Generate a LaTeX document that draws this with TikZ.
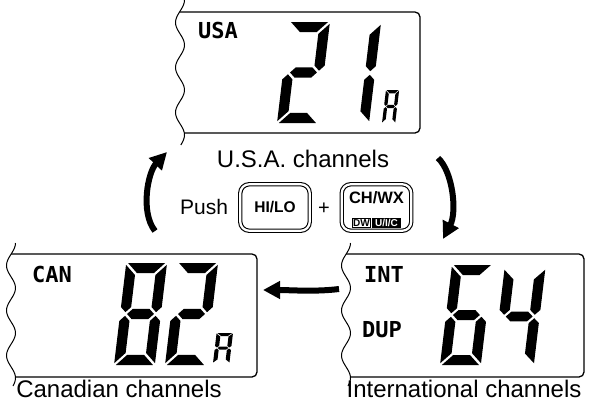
\documentclass[tikz,border=0pt]{standalone}
\usepackage{fontspec}
\setmainfont{Liberation Sans}
\newfontfamily\lcdfont{DejaVu Sans Mono}
\usetikzlibrary{arrows.meta}
\newcommand\sW{40}
\newcommand\sH{100}
\newcommand\sT{10}
\newcommand\sG{1.8}
\newcommand\sM{50}
\tikzset{
 sega/.style={insert path={(\sG,\sH) -- (\sW-\sG,\sH) -- (\sW-\sG-\sT,\sH-\sT) -- (\sG+\sT,\sH-\sT) -- cycle}},
 segd/.style={insert path={(\sG,0) -- (\sW-\sG,0) -- (\sW-\sG-\sT,\sT) -- (\sG+\sT,\sT) -- cycle}},
 segb/.style={insert path={(\sW,\sH-\sG) -- (\sW,\sM+\sG+\sT/2) -- (\sW-\sT/2,\sM+\sG) -- (\sW-\sT,\sM+\sG+\sT/2) -- (\sW-\sT,\sH-\sT-\sG) -- cycle}},
 segc/.style={insert path={(\sW,\sG) -- (\sW,\sM-\sG-\sT/2) -- (\sW-\sT/2,\sM-\sG) -- (\sW-\sT,\sM-\sG-\sT/2) -- (\sW-\sT,\sT+\sG) -- cycle}},
 sege/.style={insert path={(0,\sG) -- (0,\sM-\sG-\sT/2) -- (\sT/2,\sM-\sG) -- (\sT,\sM-\sG-\sT/2) -- (\sT,\sT+\sG) -- cycle}},
 segf/.style={insert path={(0,\sH-\sG) -- (0,\sM+\sG+\sT/2) -- (\sT/2,\sM+\sG) -- (\sT,\sM+\sG+\sT/2) -- (\sT,\sH-\sT-\sG) -- cycle}},
 segg/.style={insert path={(\sT/2+\sG,\sM) -- (\sT+\sG,\sM+\sT/2) -- (\sW-\sT-\sG,\sM+\sT/2) -- (\sW-\sT/2-\sG,\sM) -- (\sW-\sT-\sG,\sM-\sT/2) -- (\sT+\sG,\sM-\sT/2) -- cycle}},
}
\newcommand\lcddigit[5]{%
  \begin{scope}[shift={(#1,#2)},yscale=-1,xslant=-0.12,xscale=#3,yscale=#4]
    \foreach \s in {#5}{\fill[seg\s];}
  \end{scope}}
\begin{document}
\begin{tikzpicture}[x=1pt,y=-1pt,
  lcdbox/.style={line width=1.3pt, rounded corners=5pt},
  wave/.style={line width=1pt},
  lbl/.style={font=\fontsize{24}{28}\selectfont, inner sep=0pt},
  lcdtxt/.style={font=\lcdfont\bfseries\fontsize{22}{22}\selectfont, inner sep=0pt, anchor=base west},
  bigarrow/.style={line width=6pt, -{Triangle[length=17pt,width=17pt]}},
  keycap/.style={draw, double, double distance=2.2pt, line width=1.1pt, rounded corners=9pt,
    minimum width=69.5pt, minimum height=46.5pt, inner sep=0pt},
  tagfont/.style={font=\bfseries\fontsize{10}{10}\selectfont, inner sep=0pt},
 ]
\useasboundingbox (0,0) rectangle (589,415);
\fill[white] (0,0) rectangle (589,415);

% ---------- top display (USA) ----------
\draw[wave] plot[smooth, samples=60, domain=0:145] ({180+4.5*cos(8*\x)}, \x);
\draw[lcdbox] (179.5,12) -- (420,12) -- (420,133) -- (184.3,133);
\node[lcdtxt] (usatxt) at (198,38) {USA};
\lcddigit{277}{123}{1.02}{1.01}{a,b,g,e,d}
\lcddigit{329}{123}{1}{1}{b,c}
\lcddigit{382}{123}{0.33}{0.33}{a,b,c,e,f,g}
\node[lbl, anchor=base] (usalbl) at (303,167) {U.S.A. channels};

% ---------- bottom-left display (CAN) ----------
\draw[wave] plot[smooth, samples=60, domain=243:386] ({11+4.5*cos(8*(\x-243))}, \x);
\draw[lcdbox] (11,254) -- (257,254) -- (257,377) -- (15.5,377);
\node[lcdtxt] (cantxt) at (32,282) {CAN};
\lcddigit{114}{365}{1.02}{1.02}{a,b,c,d,e,f,g}
\lcddigit{165}{365}{1.02}{1.02}{a,b,g,e,d}
\lcddigit{213}{363}{0.41}{0.30}{a,b,c,e,f,g}
\node[lbl, anchor=base] (canlbl) at (119,397) {Canadian channels};

% ---------- bottom-right display (INT) ----------
\draw[wave] plot[smooth, samples=60, domain=243:386] ({346+4.5*cos(8*(\x-243))}, \x);
\draw[lcdbox] (346,254) -- (584,254) -- (584,377) -- (350.5,377);
\node[lcdtxt] (inttxt) at (364,282) {INT};
\node[lcdtxt] (duptxt) at (362,337) {DUP};
\lcddigit{440}{365}{1.02}{1}{a,f,g,e,d,c}
\lcddigit{493}{365}{1.02}{0.97}{f,g,b,c}
\node[lbl, anchor=base] (intlbl) at (464,397) {International channels};

% ---------- keys ----------
\node[anchor=base west, inner sep=0pt, font=\fontsize{21}{21}\selectfont] (push) at (180,214) {Push};
\node[keycap] (hilo) at (275,207.5) {};
\node[font=\bfseries\fontsize{15.5}{15.5}\selectfont, inner sep=0pt] (hilotxt) at (275,207) {HI/LO};
\node[anchor=base, inner sep=0pt, font=\fontsize{20}{20}\selectfont] (plus) at (324,214) {+};
\node[keycap] (chwx) at (376.5,207.5) {};
\node[font=\bfseries\fontsize{16.5}{16.5}\selectfont, inner sep=0pt] (chwxtxt) at (376.5,198) {CH/WX};
\node[draw, line width=1.3pt, tagfont, minimum width=18.5pt, minimum height=8.5pt] (dw) at (361.5,223) {DW};
\node[fill=black, text=white, tagfont, minimum width=29pt, minimum height=9.5pt] (uic) at (386.5,223) {U/I/C};

% ---------- arrows ----------
\coordinate (l0) at (155,231);
\coordinate (l1) at (167,152);
\draw[bigarrow] (l0) .. controls (140,212) and (148,172) .. (l1);
\coordinate (r0) at (438,158);
\coordinate (r1) at (443,239);
\draw[bigarrow] (r0) .. controls (453,172) and (457,212) .. (r1);
\coordinate (h0) at (339,289);
\coordinate (h1) at (263,290);
\draw[bigarrow] (h0) .. controls (315,292) and (290,290) .. (h1);
\end{tikzpicture}
\end{document}
